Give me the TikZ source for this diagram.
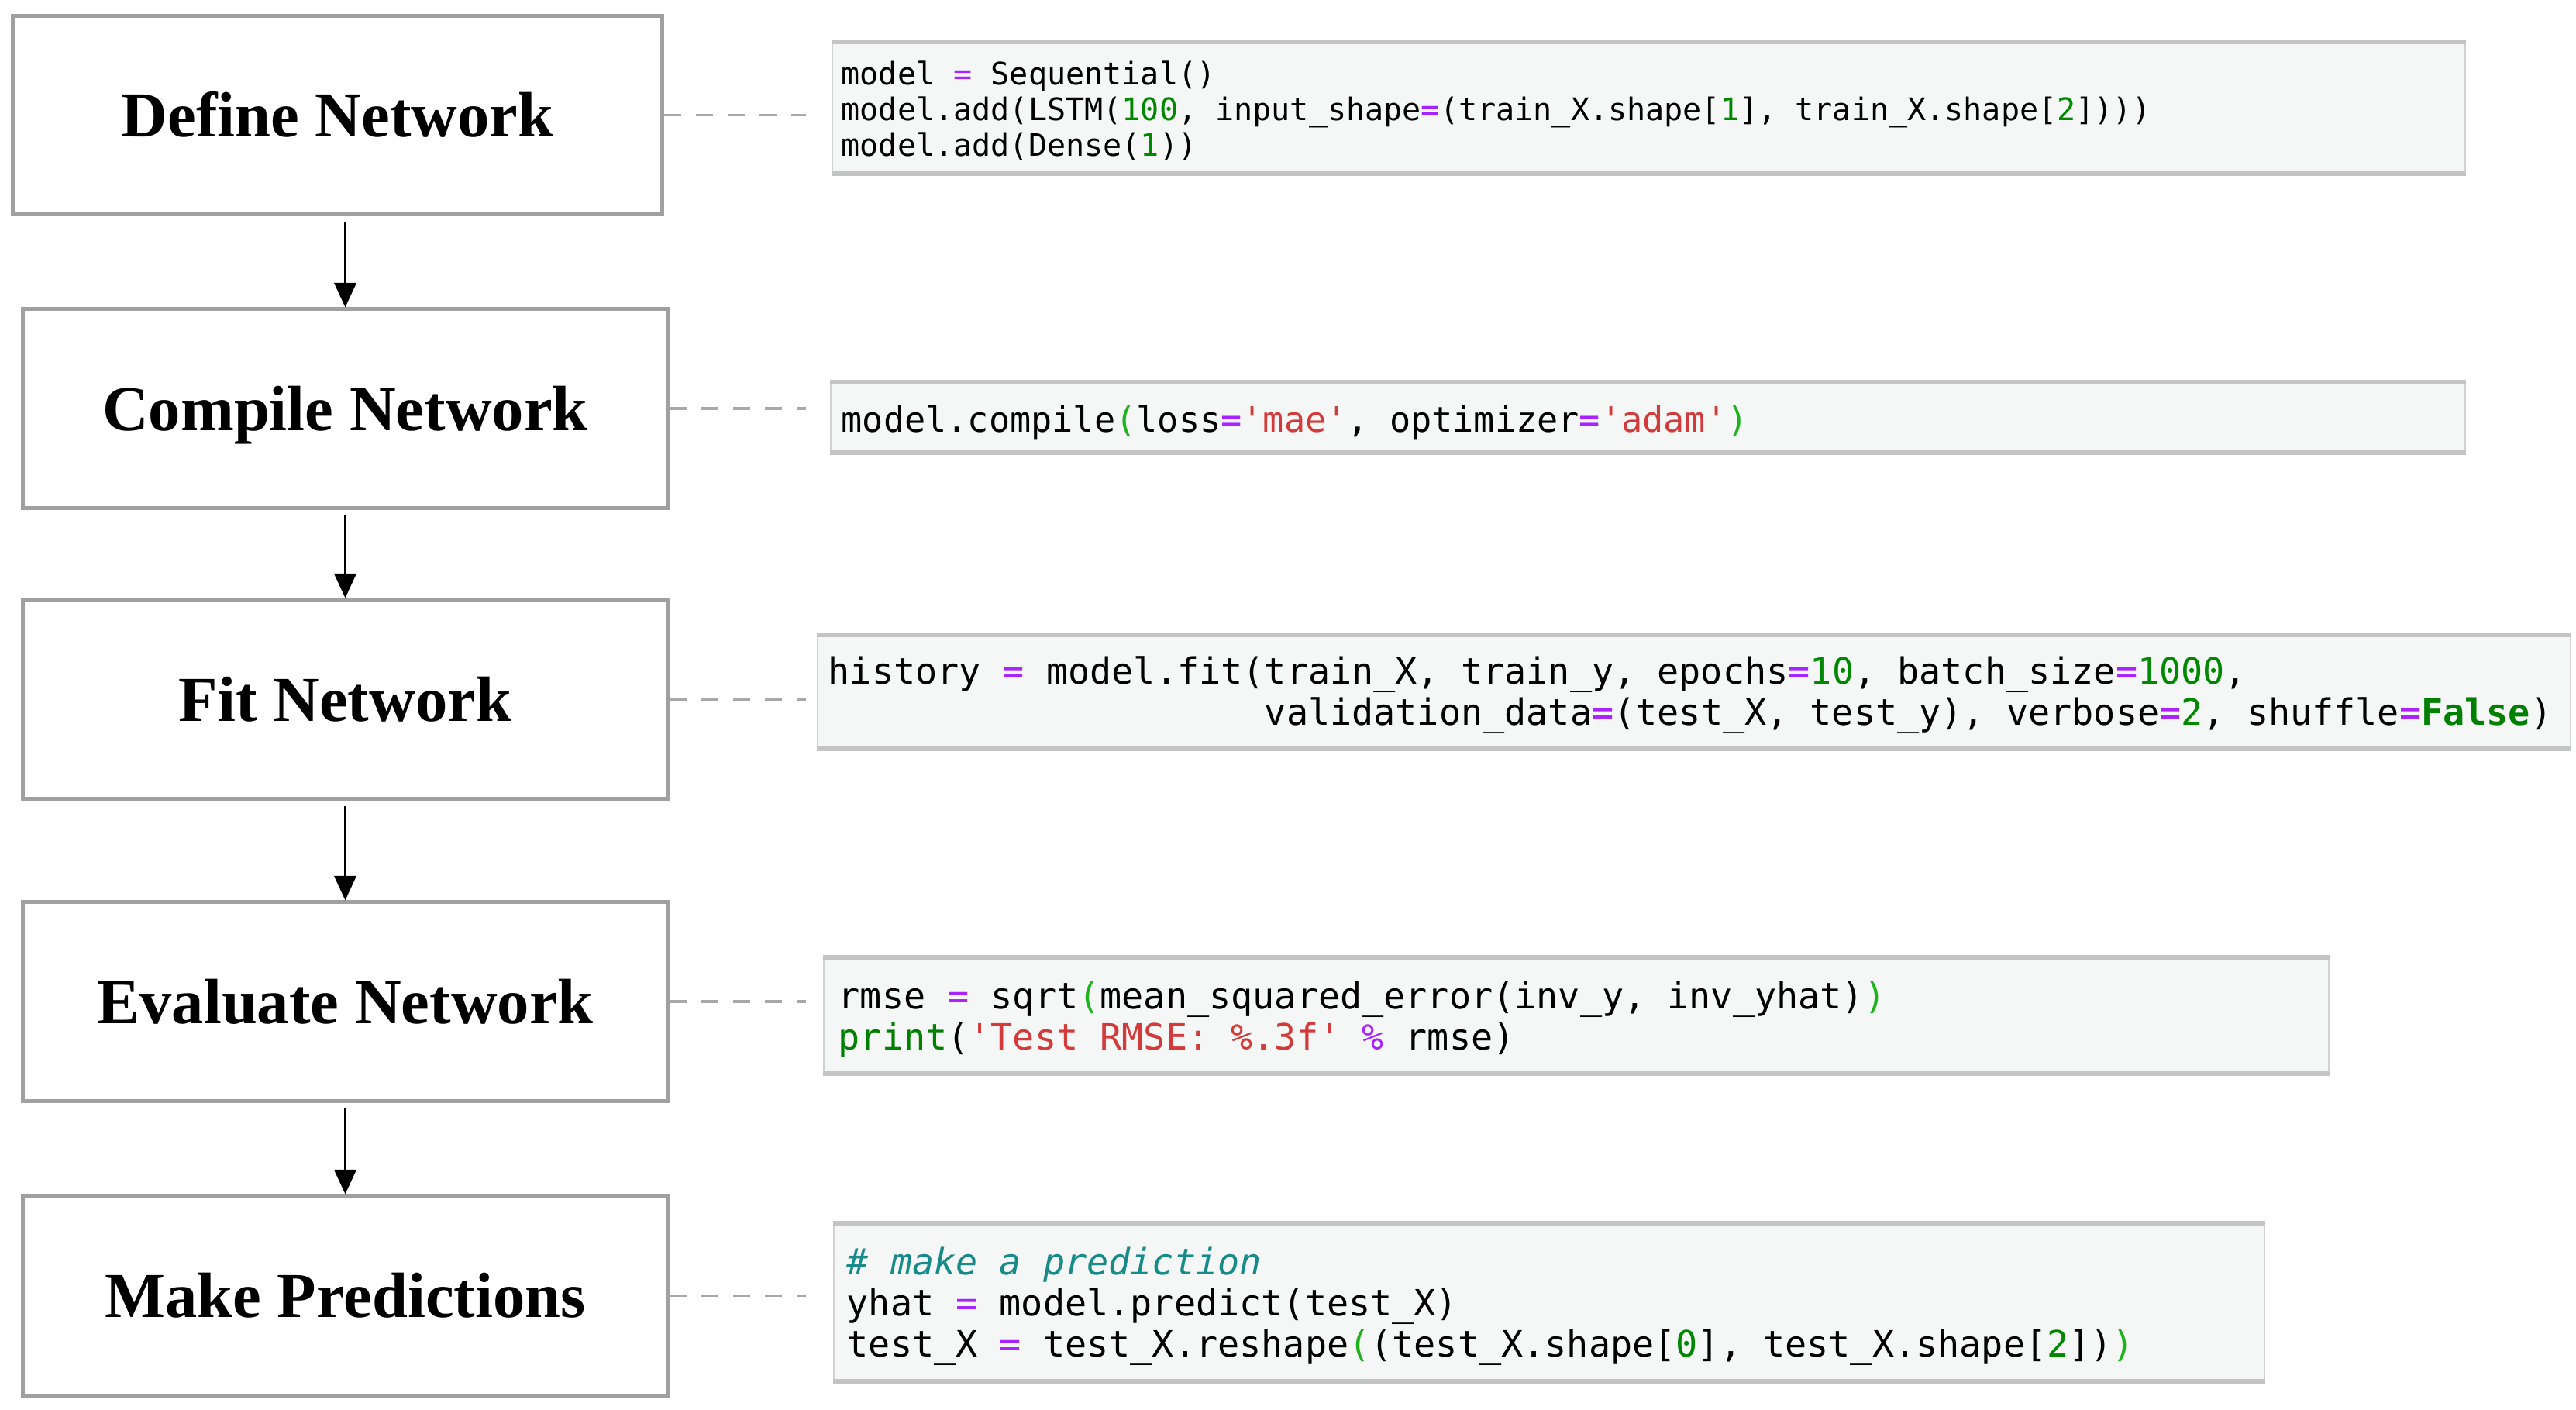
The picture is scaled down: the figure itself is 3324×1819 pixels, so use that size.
\documentclass[tikz,border=0pt]{standalone}
\usepackage{fontspec}
\setmainfont{Liberation Serif}
\setmonofont{DejaVu Sans Mono}
\usetikzlibrary{arrows.meta}
\definecolor{opc}{HTML}{AA22FF}
\definecolor{numc}{HTML}{008800}
\definecolor{strc}{HTML}{D43A3A}
\definecolor{brc}{HTML}{1DB31D}
\definecolor{kwc}{HTML}{008000}
\definecolor{cmc}{HTML}{178A8A}
\definecolor{codebg}{HTML}{F5F7F6}
\definecolor{codeln}{HTML}{D2D2D2}
\definecolor{codeedge}{HTML}{C4C4C4}
\definecolor{boxln}{HTML}{A0A0A0}
\definecolor{dashc}{HTML}{A8A8A8}
\newcommand\cOp[1]{\textcolor{opc}{#1}}
\newcommand\cNum[1]{\textcolor{numc}{#1}}
\newcommand\cStr[1]{\textcolor{strc}{#1}}
\newcommand\cBr[1]{\textcolor{brc}{#1}}
\newcommand\cKw[1]{\textcolor{kwc}{#1}}
\newcommand\cCm[1]{\textcolor{cmc}{#1}}
\tikzset{
  stage/.style={draw=boxln, line width=1.4pt, fill=white, inner sep=0pt,
    text height=16.2pt, text depth=0pt,
    font=\bfseries\fontsize{23.5}{28}\selectfont},
  codebox/.style={draw=codeln, line width=0.6pt, fill=codebg, inner sep=0pt},
  cedge/.style={draw=codeedge, line width=1.6pt},
  codetxt/.style={anchor=west, inner sep=0pt, align=left,
    font=\ttfamily\fontsize{13.3}{15.1}\selectfont},
  codetxtmid/.style={anchor=west, inner sep=0pt, align=left,
    font=\ttfamily\fontsize{12.85}{15.1}\selectfont},
  codetxtsmall/.style={anchor=west, inner sep=0pt, align=left,
    font=\ttfamily\fontsize{11.4}{13}\selectfont},
  arr/.style={draw=black, line width=1.1pt, shorten <=2pt, -{Triangle[length=9pt,width=8pt]}},
  dashline/.style={draw=dashc, line width=1.1pt, dash pattern=on 6.3pt off 5.4pt}
}
\begin{document}
\begin{tikzpicture}[x=0.01cm, y=-0.01cm]
\useasboundingbox (0,0) rectangle (3324,1819);
\fill[white] (0,0) rectangle (3324,1819);

% stage boxes
\node[stage, minimum width=8.37cm, minimum height=2.55cm] (b1) at (435.5,148.5) {Define Network};
\node[stage, minimum width=8.31cm, minimum height=2.56cm] (b2) at (445.5,527) {Compile Network};
\node[stage, minimum width=8.31cm, minimum height=2.56cm] (b3) at (445.5,902) {Fit Network};
\node[stage, minimum width=8.31cm, minimum height=2.56cm] (b4) at (445.5,1292) {Evaluate Network};
\node[stage, minimum width=8.31cm, minimum height=2.57cm] (b5) at (445.5,1671.5) {Make Predictions};

% arrows
\draw[arr] (b1.south -| b2.north) -- (b2.north);
\draw[arr] (b2.south) -- (b3.north);
\draw[arr] (b3.south) -- (b4.north);
\draw[arr] (b4.south) -- (b5.north);

% code boxes
\node[codebox, minimum width=21.05cm, minimum height=1.68cm] (c1) at (2127.5,139) {};
\node[codebox, minimum width=21.07cm, minimum height=0.89cm] (c2) at (2126.5,538.5) {};
\node[codebox, minimum width=22.60cm, minimum height=1.45cm] (c3) at (2186,892.5) {};
\node[codebox, minimum width=19.40cm, minimum height=1.48cm] (c4) at (2034,1310) {};
\node[codebox, minimum width=18.44cm, minimum height=2.02cm] (c5) at (1999,1680) {};
\foreach \c in {c1,c2,c3,c4,c5}{
  \draw[cedge] (\c.north west) -- (\c.north east);
  \draw[cedge] (\c.south west) -- (\c.south east);
}

% dashed links
\coordinate (dend) at (1040,0);
\draw[dashline] (b1.east) -- (b1.east -| dend);
\draw[dashline] (b2.east) -- (b2.east -| dend);
\draw[dashline] (b3.east) -- (b3.east -| dend);
\draw[dashline] (b4.east) -- (b4.east -| dend);
\draw[dashline] (b5.east) -- (b5.east -| dend);

% code text
\node[codetxtsmall] (t1) at (1085,143) {model \cOp{=} Sequential()\\model.add(LSTM(\cNum{100}, input\_shape\cOp{=}(train\_X.shape[\cNum{1}], train\_X.shape[\cNum{2}])))\\model.add(Dense(\cNum{1}))};
\node[codetxtmid] (t2) at (1085,545) {model.compile\cBr{(}loss\cOp{=}\cStr{'mae'}, optimizer\cOp{=}\cStr{'adam'}\cBr{)}};
\node[codetxt] (t3) at (1068,897) {history \cOp{=} model.fit(train\_X, train\_y, epochs\cOp{=}\cNum{10}, batch\_size\cOp{=}\cNum{1000},\\\hphantom{history = model.fit(}validation\_data\cOp{=}(test\_X, test\_y), verbose\cOp{=}\cNum{2}, shuffle\cOp{=}\cKw{\bfseries False})};
\node[codetxt] (t4) at (1081,1315) {rmse \cOp{=} sqrt\cBr{(}mean\_squared\_error(inv\_y, inv\_yhat)\cBr{)}\\\cKw{print}(\cStr{'Test RMSE: \%.3f'} \cOp{\%} rmse)};
\node[codetxt] (t5) at (1092,1685) {\cCm{\itshape\# make a prediction}\\yhat \cOp{=} model.predict(test\_X)\\test\_X \cOp{=} test\_X.reshape\cBr{(}(test\_X.shape[\cNum{0}], test\_X.shape[\cNum{2}])\cBr{)}};
\end{tikzpicture}
\end{document}
